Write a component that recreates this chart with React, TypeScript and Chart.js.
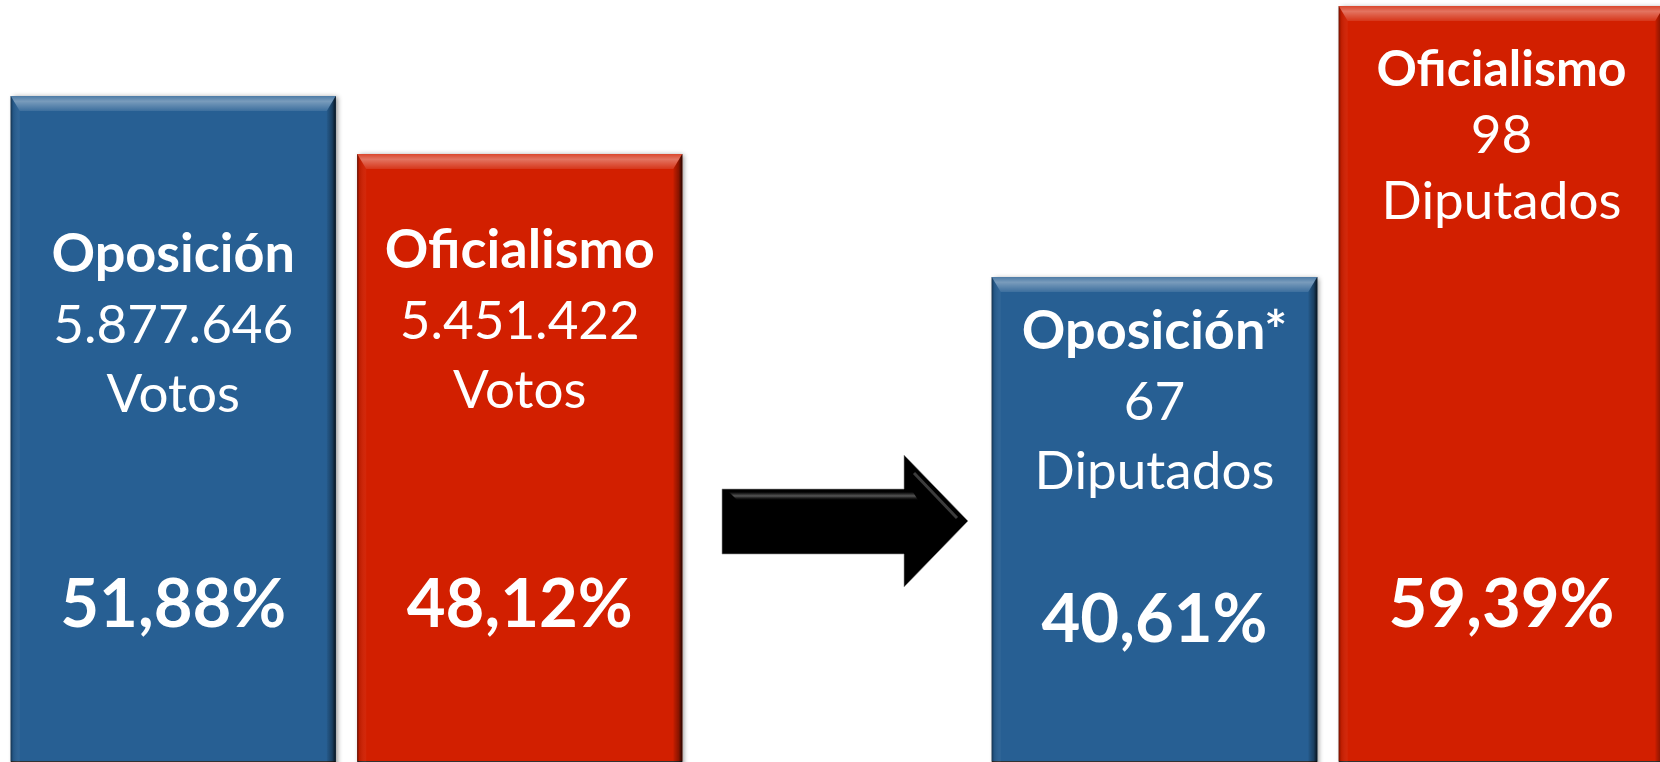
import React, { useEffect, useRef } from 'react';
import { Chart, registerables } from 'chart.js';

Chart.register(...registerables);

// ---- data ----
const voteParties = ['Oposición', 'Oficialismo'];
const voteCounts = [5877646, 5451422];
const votePercents = [51.88, 48.12];
const voteUnit = 'Votos';

const seatParties = ['Oposición*', 'Oficialismo'];
const seatCounts = [67, 98];
const seatPercents = [40.61, 59.39];
const seatUnit = 'Diputados';

const barColors = ['#275F93', '#D21F00'];

// ---- layout / style (not data) ----
const FONT = 'Lato, "Open Sans", sans-serif';

interface PanelSpec {
  parties: string[];
  counts: number[];
  percents: number[];
  unit: string;
  yMin: number;
  yMax: number;
  baselines: number[][];
  titleSizes: number[];
  bodySize: number;
  pctSize: number;
  padRight: number;
  arrow: boolean;
}

function fmtThousands(n: number): string {
  return String(n).replace(/\B(?=(\d{3})+(?!\d))/g, '.');
}
function fmtPct(v: number): string {
  return v.toFixed(2).replace('.', ',') + '%';
}

function drawArrow(ctx: CanvasRenderingContext2D) {
  ctx.save();
  ctx.beginPath();
  ctx.moveTo(722, 489);
  ctx.lineTo(904, 489);
  ctx.lineTo(904, 455);
  ctx.lineTo(968, 521);
  ctx.lineTo(904, 587);
  ctx.lineTo(904, 554);
  ctx.lineTo(722, 554);
  ctx.closePath();
  ctx.fillStyle = '#000';
  ctx.fill();
  ctx.strokeStyle = 'rgba(150,150,150,0.6)';
  ctx.lineWidth = 1;
  ctx.stroke();
  // subtle bevel highlights
  ctx.lineCap = 'butt';
  let g = ctx.createLinearGradient(0, 492, 0, 500);
  g.addColorStop(0, 'rgba(90,90,90,0.0)');
  g.addColorStop(0.5, 'rgba(95,95,95,0.9)');
  g.addColorStop(1, 'rgba(40,40,40,0.0)');
  ctx.fillStyle = g;
  ctx.beginPath();
  ctx.moveTo(729, 492);
  ctx.lineTo(913, 492);
  ctx.lineTo(918, 500);
  ctx.lineTo(737, 500);
  ctx.closePath();
  ctx.fill();
  ctx.strokeStyle = 'rgba(85,85,85,0.7)';
  ctx.lineWidth = 3;
  ctx.beginPath();
  ctx.moveTo(914, 473);
  ctx.lineTo(957, 518);
  ctx.stroke();
  ctx.restore();
}

function makePlugin(spec: PanelSpec) {
  return {
    id: 'bevelAndLabels',
    beforeDatasetsDraw(chart: any) {
      const ctx: CanvasRenderingContext2D = chart.ctx;
      const meta = chart.getDatasetMeta(0);
      meta.data.forEach((el: any) => {
        const { x, y, base, width } = el.getProps(['x', 'y', 'base', 'width'], true);
        ctx.save();
        ctx.shadowColor = 'rgba(0,0,0,0.45)';
        ctx.shadowBlur = 5;
        ctx.shadowOffsetX = 2;
        ctx.shadowOffsetY = 1;
        ctx.fillStyle = '#333';
        ctx.fillRect(x - width / 2, y, width, base - y);
        ctx.restore();
      });
    },
    afterDatasetsDraw(chart: any) {
      const ctx: CanvasRenderingContext2D = chart.ctx;
      const meta = chart.getDatasetMeta(0);
      meta.data.forEach((el: any, i: number) => {
        const { x, y, base, width } = el.getProps(['x', 'y', 'base', 'width'], true);
        const L = x - width / 2;
        const R = x + width / 2;
        const T = y;
        const B = base;
        const bt = 15;
        const s = 9;
        ctx.save();
        // top bevel
        let g = ctx.createLinearGradient(0, T, 0, T + bt);
        g.addColorStop(0, 'rgba(255,255,255,0.18)');
        g.addColorStop(0.35, 'rgba(255,255,255,0.38)');
        g.addColorStop(1, 'rgba(255,255,255,0.10)');
        ctx.fillStyle = g;
        ctx.beginPath();
        ctx.moveTo(L, T);
        ctx.lineTo(R, T);
        ctx.lineTo(R - s, T + bt);
        ctx.lineTo(L + s, T + bt);
        ctx.closePath();
        ctx.fill();
        // left bevel
        g = ctx.createLinearGradient(L, 0, L + s, 0);
        g.addColorStop(0, 'rgba(0,0,0,0.45)');
        g.addColorStop(0.25, 'rgba(0,0,0,0.10)');
        g.addColorStop(1, 'rgba(255,255,255,0.04)');
        ctx.fillStyle = g;
        ctx.beginPath();
        ctx.moveTo(L, T);
        ctx.lineTo(L + s, T + bt);
        ctx.lineTo(L + s, B - s);
        ctx.lineTo(L, B);
        ctx.closePath();
        ctx.fill();
        // right bevel
        g = ctx.createLinearGradient(R - s, 0, R, 0);
        g.addColorStop(0, 'rgba(0,0,0,0.05)');
        g.addColorStop(0.6, 'rgba(0,0,0,0.35)');
        g.addColorStop(1, 'rgba(0,0,0,0.8)');
        ctx.fillStyle = g;
        ctx.beginPath();
        ctx.moveTo(R, T);
        ctx.lineTo(R - s, T + bt);
        ctx.lineTo(R - s, B - s);
        ctx.lineTo(R, B);
        ctx.closePath();
        ctx.fill();
        // bottom bevel
        g = ctx.createLinearGradient(0, B - s, 0, B);
        g.addColorStop(0, 'rgba(0,0,0,0.04)');
        g.addColorStop(0.6, 'rgba(0,0,0,0.22)');
        g.addColorStop(1, 'rgba(0,0,0,0.6)');
        ctx.fillStyle = g;
        ctx.beginPath();
        ctx.moveTo(L, B);
        ctx.lineTo(L + s, B - s);
        ctx.lineTo(R - s, B - s);
        ctx.lineTo(R, B);
        ctx.closePath();
        ctx.fill();
        ctx.restore();

        // labels
        const bl = spec.baselines[i];
        ctx.save();
        ctx.fillStyle = '#ffffff';
        ctx.textAlign = 'center';
        ctx.textBaseline = 'alphabetic';
        ctx.font = `bold ${spec.titleSizes[i]}px ${FONT}`;
        ctx.fillText(spec.parties[i], x, bl[0]);
        ctx.font = `${spec.bodySize}px ${FONT}`;
        ctx.fillText(fmtThousands(spec.counts[i]), x, bl[1]);
        ctx.fillText(spec.unit, x, bl[2]);
        ctx.font = `bold ${spec.pctSize}px ${FONT}`;
        ctx.fillText(fmtPct(spec.percents[i]), x, bl[3]);
        ctx.restore();
      });
    },
    afterDraw(chart: any) {
      if (spec.arrow) drawArrow(chart.ctx);
    },
  };
}

function makeConfig(spec: PanelSpec): any {
  return {
    type: 'bar',
    data: {
      labels: spec.parties,
      datasets: [
        {
          data: spec.percents,
          backgroundColor: barColors,
          borderWidth: 0,
          barPercentage: 0.938,
          categoryPercentage: 1,
        },
      ],
    },
    options: {
      responsive: false,
      animation: false,
      events: [],
      layout: { padding: { left: 0, right: spec.padRight, top: 0, bottom: 1 } },
      plugins: { legend: { display: false }, tooltip: { enabled: false } },
      scales: {
        x: { display: false },
        y: { display: false, min: spec.yMin, max: spec.yMax },
      },
    },
    plugins: [makePlugin(spec)],
  };
}

const votesPanel: PanelSpec = {
  parties: voteParties,
  counts: voteCounts,
  percents: votePercents,
  unit: voteUnit,
  yMin: 8.8,
  yMax: 58.1,
  baselines: [
    [272, 343, 412, 627],
    [268, 339, 408, 627],
  ],
  titleSizes: [54, 54],
  bodySize: 53,
  pctSize: 67,
  padRight: 288,
  arrow: true,
};

const seatsPanel: PanelSpec = {
  parties: seatParties,
  counts: seatCounts,
  percents: seatPercents,
  unit: seatUnit,
  yMin: 7.07,
  yMax: 59.81,
  baselines: [
    [349, 420, 489, 642],
    [86, 153, 219, 627],
  ],
  titleSizes: [54, 50],
  bodySize: 53,
  pctSize: 67,
  padRight: 0,
  arrow: false,
};

function Panel({ spec, left, width }: { spec: PanelSpec; left: number; width: number }) {
  const ref = useRef<HTMLCanvasElement>(null);
  useEffect(() => {
    if (!ref.current) return;
    const chart = new Chart(ref.current, makeConfig(spec));
    return () => chart.destroy();
  }, [spec]);
  return (
    <div style={{ position: 'absolute', left, top: 0, width, height: 762 }}>
      <canvas ref={ref} width={width} height={762} style={{ display: 'block', width, height: 762 }} />
    </div>
  );
}

export default function App() {
  return (
    <div
      style={{
        position: 'fixed',
        left: 0,
        top: 0,
        width: 1660,
        height: 762,
        overflow: 'hidden',
        background: '#ffffff',
      }}
    >
      <Panel spec={votesPanel} left={0} width={981} />
      <Panel spec={seatsPanel} left={981} width={694} />
    </div>
  );
}
